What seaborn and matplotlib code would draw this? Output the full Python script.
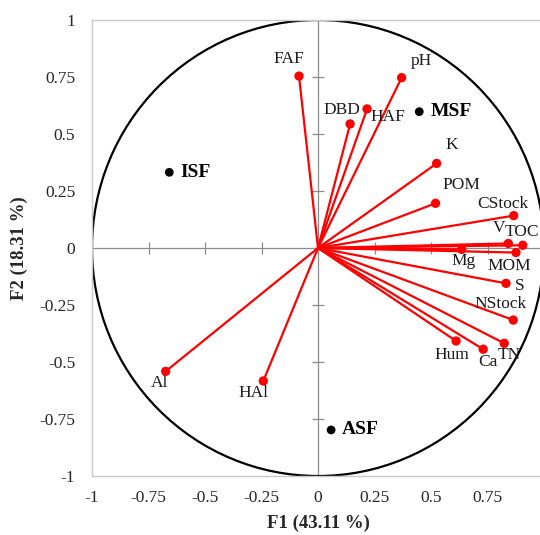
import numpy as np
import pandas as pd
import seaborn as sns
import matplotlib.pyplot as plt
from matplotlib.patches import Circle

# variable loadings (F1, F2)
variables = ["FAF", "pH", "DBD", "HAF", "K", "POM", "CStock", "V", "TOC", "Mg",
             "MOM", "S", "NStock", "Hum", "Ca", "TN", "Al", "HAl"]
f1 = [-0.084, 0.37, 0.142, 0.217, 0.525, 0.52, 0.866, 0.842, 0.906, 0.636,
      0.876, 0.832, 0.864, 0.611, 0.731, 0.824, -0.674, -0.242]
f2 = [0.754, 0.747, 0.544, 0.61, 0.371, 0.196, 0.142, 0.02, 0.012, -0.006,
      -0.02, -0.155, -0.316, -0.408, -0.444, -0.418, -0.541, -0.583]

# observations (sites)
sites = ["MSF", "ISF", "ASF"]
site_f1 = [0.448, -0.658, 0.058]
site_f2 = [0.598, 0.332, -0.798]

ticks = [-1, -0.75, -0.5, -0.25, 0, 0.25, 0.5, 0.75, 1]
tick_labels = ["-1", "-0.75", "-0.5", "-0.25", "0", "0.25", "0.5", "0.75", "1"]

# label offsets in pixels (layout only)
label_offsets = {
    "FAF": (-10, 17), "pH": (20, 17), "DBD": (-8, 14), "HAF": (21, -8),
    "K": (15, 18), "POM": (26, 18), "CStock": (-11, 12), "V": (-9, 15),
    "TOC": (-1, 13), "Mg": (2, -12), "MOM": (-7, -13), "S": (14, -3),
    "NStock": (-13, 16), "Hum": (-4, -14), "Ca": (5, -13), "TN": (5, -12),
    "Al": (-6, -12), "HAl": (-10, -12),
}

var_df = pd.DataFrame({"name": variables, "F1": f1, "F2": f2})
site_df = pd.DataFrame({"name": sites, "F1": site_f1, "F2": site_f2})

sns.set_theme(style="white")
plt.rcParams["font.family"] = ["Liberation Serif", "DejaVu Serif"]

fig = plt.figure(figsize=(5.4, 5.35), dpi=100)
ax = fig.add_axes([92 / 540, 59 / 535, 452 / 540, 456 / 535])

ax.set_xlim(-1, 1)
ax.set_ylim(-1, 1)

# centre axes with tick marks
ax.axhline(0, color="#8c8c8c", lw=0.9, zorder=1)
ax.axvline(0, color="#8c8c8c", lw=0.9, zorder=1)
ax.plot([0] * len(ticks), ticks, ls="none", marker="_", ms=8, mew=0.9,
        color="#8c8c8c", zorder=1)
ax.plot(ticks, [0] * len(ticks), ls="none", marker="|", ms=8, mew=0.9,
        color="#8c8c8c", zorder=1)

ax.add_patch(Circle((0, 0), 1, fill=False, ec="black", lw=1.6, zorder=2))

for x, y in zip(var_df["F1"], var_df["F2"]):
    ax.plot([0, x], [0, y], color="red", lw=1.6, zorder=3)

sns.scatterplot(data=var_df, x="F1", y="F2", color="red", s=45,
                edgecolor="none", zorder=4, ax=ax)
sns.scatterplot(data=site_df, x="F1", y="F2", color="black", s=40,
                edgecolor="none", zorder=4, ax=ax)

for name, x, y in zip(var_df["name"], var_df["F1"], var_df["F2"]):
    dx, dy = label_offsets[name]
    ax.annotate(name, (x, y), xytext=(dx, dy), textcoords="offset pixels",
                ha="center", va="center", fontsize=12.5, color="#1a1a1a")

for name, x, y in zip(site_df["name"], site_df["F1"], site_df["F2"]):
    ax.annotate(name, (x, y), xytext=(11, 0), textcoords="offset pixels",
                ha="left", va="center", fontsize=14, fontweight="bold",
                color="black")

# x axis: the "1" label falls outside the picture, as in the original crop
ax.set_xticks(ticks[:-1])
ax.set_xticklabels(tick_labels[:-1])
ax.set_yticks(ticks)
ax.set_yticklabels(tick_labels)
ax.tick_params(axis="both", length=0, labelsize=12.5, colors="#262626")
ax.tick_params(axis="y", pad=12)
ax.tick_params(axis="x", pad=10)

for side in ["left", "right", "top", "bottom"]:
    ax.spines[side].set_color("#c8c8c8")
    ax.spines[side].set_linewidth(1.0)

ax.set_xlabel("F1 (43.11 %)", fontsize=13.5, fontweight="bold", labelpad=6)
ax.set_ylabel("F2 (18.31 %)", fontsize=13.5, fontweight="bold", labelpad=8)

fig.savefig("out.png", dpi=100)
